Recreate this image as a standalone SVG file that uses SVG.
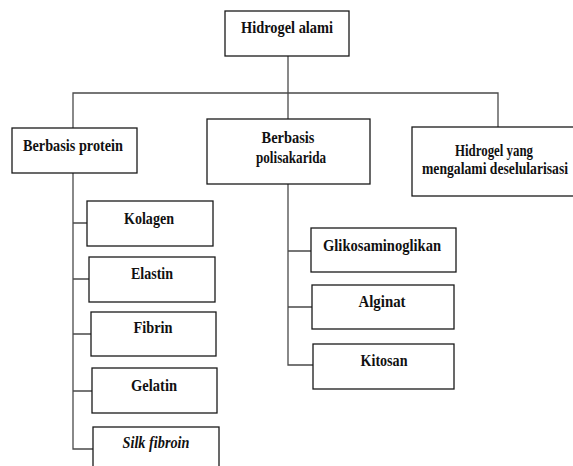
<svg xmlns="http://www.w3.org/2000/svg" width="573" height="466" viewBox="0 0 573 466">
<style>
.box{fill:#fff;stroke:#1a1a1a;stroke-width:1.3}
.t{font-family:"Liberation Serif","Times New Roman",serif;font-weight:bold;font-size:17px;fill:#111;text-anchor:middle}
.i{font-style:italic}
#connectors path{fill:none;stroke:#4a4a4a;stroke-width:1.3}
</style>
<rect width="573" height="466" fill="#fff"/>
<g id="connectors">
<path d="M288 56V119"/>
<path d="M73 128V93H498V127"/>
<path d="M73 173V449H93"/>
<path d="M73 223H87M73 279H89M73 334H91M73 391H92"/>
<path d="M288 184V365H313"/>
<path d="M288 251H311M288 307H312"/>
</g>
<g id="n-hidrogel-alami"><rect class="box" x="225" y="11" width="124" height="45"/><text class="t" x="287" y="33" textLength="92" lengthAdjust="spacingAndGlyphs">Hidrogel alami</text></g>
<g id="n-protein"><rect class="box" x="12" y="128" width="125" height="45"/><text class="t" x="73" y="151" textLength="100" lengthAdjust="spacingAndGlyphs">Berbasis protein</text></g>
<g id="n-polisakarida"><rect class="box" x="207" y="119" width="163" height="65"/><text class="t" x="288" y="143" textLength="53" lengthAdjust="spacingAndGlyphs">Berbasis</text><text class="t" x="291" y="163" textLength="70" lengthAdjust="spacingAndGlyphs">polisakarida</text></g>
<g id="n-deselularisasi"><rect class="box" x="412" y="127" width="170" height="69"/><text class="t" x="494" y="156" textLength="78" lengthAdjust="spacingAndGlyphs">Hidrogel yang</text><text class="t" x="495" y="174" textLength="146" lengthAdjust="spacingAndGlyphs">mengalami deselularisasi</text></g>
<g id="n-kolagen"><rect class="box" x="87" y="201" width="126" height="45"/><text class="t" x="149" y="224" textLength="50" lengthAdjust="spacingAndGlyphs">Kolagen</text></g>
<g id="n-elastin"><rect class="box" x="89" y="257" width="126" height="45"/><text class="t" x="152" y="279" textLength="42" lengthAdjust="spacingAndGlyphs">Elastin</text></g>
<g id="n-fibrin"><rect class="box" x="91" y="312" width="125" height="44"/><text class="t" x="153" y="333" textLength="39" lengthAdjust="spacingAndGlyphs">Fibrin</text></g>
<g id="n-gelatin"><rect class="box" x="92" y="368" width="125" height="45"/><text class="t" x="154" y="391" textLength="46" lengthAdjust="spacingAndGlyphs">Gelatin</text></g>
<g id="n-silk"><rect class="box" x="93" y="427" width="126" height="45"/><text class="t i" x="156" y="448" textLength="67" lengthAdjust="spacingAndGlyphs">Silk fibroin</text></g>
<g id="n-glikosaminoglikan"><rect class="box" x="311" y="228" width="145" height="44"/><text class="t" x="382" y="251" textLength="118" lengthAdjust="spacingAndGlyphs">Glikosaminoglikan</text></g>
<g id="n-alginat"><rect class="box" x="312" y="285" width="142" height="44"/><text class="t" x="382" y="307" textLength="47" lengthAdjust="spacingAndGlyphs">Alginat</text></g>
<g id="n-kitosan"><rect class="box" x="313" y="344" width="141" height="45"/><text class="t" x="384" y="366" textLength="47" lengthAdjust="spacingAndGlyphs">Kitosan</text></g>
</svg>
